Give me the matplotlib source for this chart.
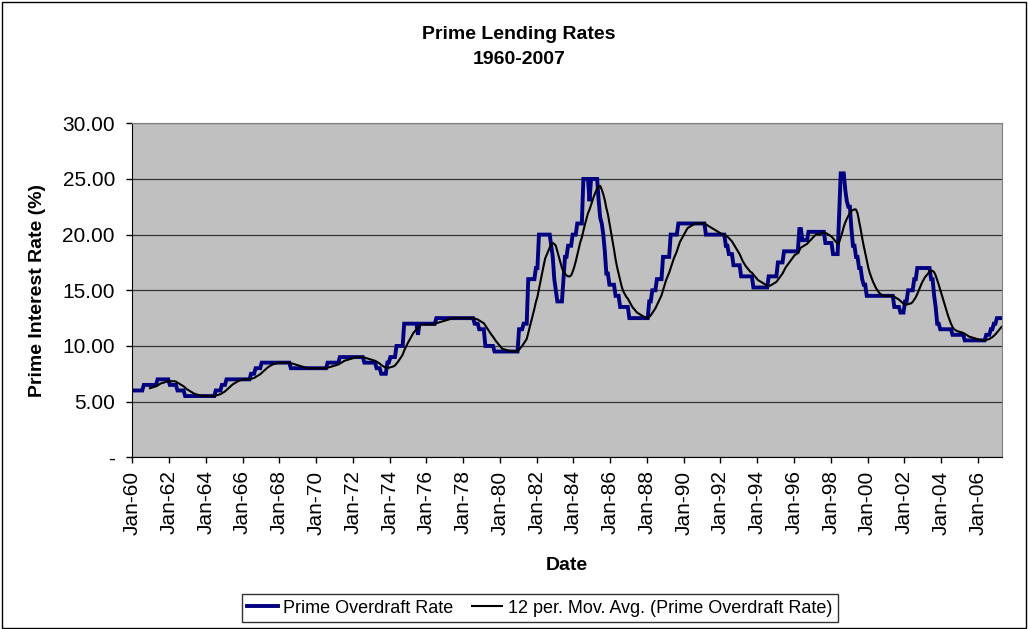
import matplotlib.pyplot as plt
from matplotlib.patches import Rectangle
import numpy as np
import pandas as pd

plt.rcParams['font.family'] = ['Liberation Sans', 'DejaVu Sans']

# prime overdraft rate (%): month each rate took effect and the rate itself
rate_start = [
    '1960-01', '1960-08', '1961-05', '1962-01', '1962-06', '1962-11', '1964-07', '1964-11',
    '1965-02', '1966-06', '1966-09', '1967-01', '1968-08', '1970-08', '1971-04', '1972-08',
    '1973-04', '1973-07', '1973-11', '1974-01', '1974-05', '1974-10', '1975-07', '1975-08',
    '1976-07', '1978-08', '1978-11', '1979-03', '1979-09', '1981-01', '1981-04', '1981-07',
    '1981-12', '1982-02', '1982-10', '1982-11', '1982-12', '1983-01', '1983-02', '1983-06',
    '1983-07', '1983-09', '1983-12', '1984-03', '1984-07', '1984-11', '1984-12', '1985-05',
    '1985-06', '1985-07', '1985-08', '1985-09', '1985-10', '1985-12', '1986-04', '1986-07',
    '1987-01', '1988-02', '1988-04', '1988-07', '1988-11', '1989-04', '1989-09', '1991-03',
    '1992-04', '1992-06', '1992-09', '1993-02', '1993-10', '1994-08', '1995-02', '1995-06',
    '1996-04', '1996-06', '1996-10', '1997-09', '1998-02', '1998-06', '1998-07', '1998-10',
    '1998-11', '1998-12', '1999-02', '1999-03', '1999-05', '1999-07', '1999-09', '1999-10',
    '1999-12', '2001-06', '2001-10', '2002-01', '2002-03', '2002-07', '2002-09', '2003-06',
    '2003-08', '2003-09', '2003-10', '2003-12', '2004-08', '2005-04', '2006-06', '2006-09',
    '2006-11', '2007-01',
]
rate_value = [
    6.0, 6.5, 7.0, 6.5, 6.0, 5.5, 6.0, 6.5,
    7.0, 7.5, 8.0, 8.5, 8.0, 8.5, 9.0, 8.5,
    8.0, 7.5, 8.5, 9.0, 10.0, 12.0, 11.0, 12.0,
    12.5, 12.0, 11.5, 10.0, 9.5, 11.5, 12.0, 16.0,
    17.0, 20.0, 19.0, 18.0, 16.0, 15.0, 14.0, 16.0,
    18.0, 19.0, 20.0, 21.0, 25.0, 23.0, 25.0, 23.0,
    21.5, 21.0, 20.0, 18.5, 16.5, 15.5, 14.5, 13.5,
    12.5, 14.0, 15.0, 16.0, 18.0, 20.0, 21.0, 20.0,
    19.0, 18.25, 17.25, 16.25, 15.25, 16.25, 17.5, 18.5,
    20.5, 19.5, 20.25, 19.25, 18.25, 22.0, 25.5, 24.0,
    23.0, 22.5, 20.5, 19.0, 18.0, 17.0, 16.0, 15.5,
    14.5, 13.5, 13.0, 14.0, 15.0, 16.0, 17.0, 16.0,
    14.5, 13.5, 12.0, 11.5, 11.0, 10.5, 11.0, 11.5,
    12.0, 12.5,
]
last_month = '2007-04'

y_ticks = [0, 5, 10, 15, 20, 25, 30]
y_tick_labels = ['-', '5.00', '10.00', '15.00', '20.00', '25.00', '30.00']

months = pd.period_range('1960-01', last_month, freq='M')
prime = pd.Series(rate_value, index=pd.PeriodIndex(rate_start, freq='M'))
prime = prime.reindex(months).ffill()
mov_avg = prime.rolling(12).mean()

x = np.arange(len(months)) + 0.5

fig = plt.figure(figsize=(10.28, 6.29), dpi=100)
fig.patches.append(Rectangle((0.002, 0.002), 0.996, 0.995, transform=fig.transFigure,
                             fill=False, edgecolor='black', linewidth=1.0))

ax = fig.add_axes([0.1287, 0.273, 0.8463, 0.531])
ax.set_facecolor('#C0C0C0')

ax.plot(x, prime.values, color='#000080', linewidth=2.8, solid_joinstyle='miter',
        label='Prime Overdraft Rate')
ax.plot(x, mov_avg.values, color='black', linewidth=1.5,
        label='12 per. Mov. Avg. (Prime Overdraft Rate)')

ax.set_xlim(0, len(months))
ax.set_ylim(0, 30)
ax.set_yticks(y_ticks)
ax.set_yticklabels(y_tick_labels)
ax.yaxis.grid(True, color='#333333', linewidth=0.9)
ax.set_axisbelow(True)

tick_pos = np.arange(0, len(months), 24)
ax.set_xticks(tick_pos)
ax.set_xticklabels([months[i].strftime('%b-%y') for i in tick_pos], rotation=90)

ax.tick_params(axis='both', direction='out', length=4.5, width=1, color='black',
               labelsize=15)
ax.tick_params(axis='y', pad=8)
ax.tick_params(axis='x', pad=5)
for side in ['top', 'right']:
    ax.spines[side].set_color('#808080')
for side in ['left', 'bottom']:
    ax.spines[side].set_color('black')

ax.set_ylabel('Prime Interest Rate (%)', fontsize=14, fontweight='bold', labelpad=12)
ax.set_xlabel('Date', fontsize=14, fontweight='bold', labelpad=16)

fig.text(0.505, 0.945, 'Prime Lending Rates', ha='center', va='center',
         fontsize=14, fontweight='bold')
fig.text(0.505, 0.905, '1960-2007', ha='center', va='center',
         fontsize=14, fontweight='bold')

leg = fig.legend(loc='center', bbox_to_anchor=(0.525, 0.033), ncol=2, fontsize=13,
                 frameon=True, fancybox=False, edgecolor='black', handlelength=1.7,
                 handletextpad=0.3, columnspacing=1.0, borderpad=0.3)
leg.get_frame().set_linewidth(1.0)

fig.savefig('out.png', dpi=100)
